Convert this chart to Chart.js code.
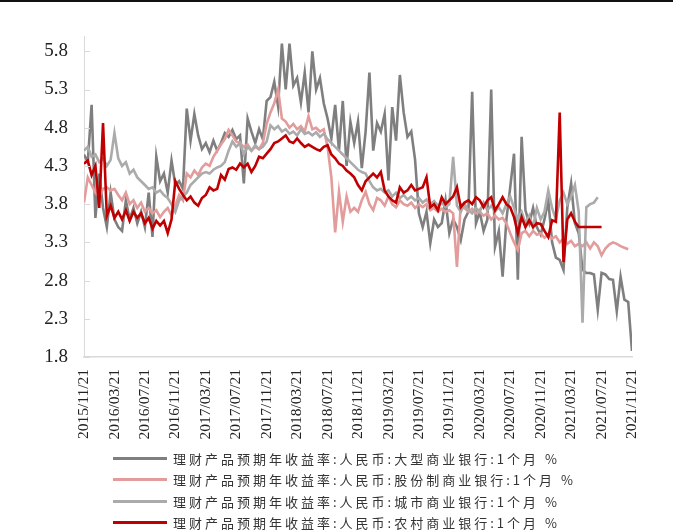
<!DOCTYPE html>
<html>
<head>
<meta charset="utf-8">
<script src="https://cdn.jsdelivr.net/npm/chart.js@4/dist/chart.umd.min.js"></script>
<style>
    html, body { margin: 0; padding: 0; background: #fff; }
    #wrap { position: relative; width: 681px; height: 532px; overflow: hidden; }
    #topBar { position: absolute; left: 0; top: 0; width: 673px; height: 2px; background: #111; }
    #legend { position: absolute; left: 113px; top: 448px; font-family: "Noto Sans CJK SC", sans-serif;
              font-size: 13px; letter-spacing: 3px; color: #333; }
    .row { height: 21.3px; line-height: 21.3px; white-space: nowrap; display: flex; align-items: center; }
    .swatch { width: 54px; height: 3px; margin-right: 6px; flex: none; }
</style>
</head>
<body>
<div id="wrap">
    <canvas id="rateChart" width="681" height="532"></canvas>
    <div id="topBar"></div>
    <div id="legend"></div>
</div>
<script>
// ================= DATA =================
// one sample every half month, starting 2015/11/21
const sampleStepMonths = 0.5;

const seriesNames = [
    "理财产品预期年收益率:人民币:大型商业银行:1个月 %",
    "理财产品预期年收益率:人民币:股份制商业银行:1个月 %",
    "理财产品预期年收益率:人民币:城市商业银行:1个月 %",
    "理财产品预期年收益率:人民币:农村商业银行:1个月 %"
];
const seriesColors = ['#7f7f7f', '#e39c9c', '#ababab', '#c00000'];

const largeBank = [
    4.45, 4.35, 5.1, 3.62, 4.2, 3.75, 3.5, 3.95, 3.6, 3.5,
    3.45, 3.85, 3.6, 3.75, 3.55, 3.7, 3.5, 3.95, 3.37, 4.42,
    4.1, 4.2, 3.95, 4.37, 4.05, 4.1, 4.0, 5.05, 4.63, 4.98,
    4.7, 4.52, 4.6, 4.48, 4.63, 4.5, 4.6, 4.73, 4.68, 4.77,
    4.65, 4.7, 4.07, 4.92, 4.75, 4.6, 4.78, 4.65, 5.15, 5.2,
    5.4, 5.08, 5.9, 5.3, 5.9, 5.35, 5.45, 5.13, 5.52, 5.0,
    5.8, 5.3, 5.45, 5.12, 4.92, 4.66, 5.1, 4.5, 5.15, 4.3,
    4.88, 4.6, 4.88, 4.27, 4.75, 5.52, 4.5, 4.86, 4.75, 4.98,
    4.11, 5.07, 4.63, 5.49, 5.0, 4.68, 4.75, 4.38, 3.68, 3.5,
    3.7, 3.29, 3.6, 3.5, 3.55, 3.85, 3.42, 3.6, 3.5, 3.33,
    3.6, 3.7, 5.27, 3.55, 3.7, 3.45, 3.6, 5.3, 3.24, 3.45,
    2.85, 3.6, 4.02, 4.46, 2.81, 4.68, 3.72, 3.55, 3.75, 3.5,
    3.4, 3.6, 3.85, 3.3, 3.1, 3.07, 2.94, 3.76, 4.07, 3.55,
    3.42, 2.94, 2.9, 2.9, 2.88, 2.42, 2.9, 2.88, 2.82, 2.81,
    2.4, 2.85, 2.55, 2.52, 1.88
];
const jointStockBank = [
    3.82, 4.15, 4.05, 3.95, 3.9, 4.0, 4.02, 3.98, 4.0, 3.92,
    3.85, 3.95, 3.8, 3.85, 3.75, 3.82, 3.7, 3.75, 3.68, 3.72,
    3.63, 3.7, 3.75, 3.65, 3.78, 3.92, 3.85, 4.2, 4.15, 4.24,
    4.18, 4.28, 4.33, 4.3, 4.42, 4.5, 4.58, 4.65, 4.77, 4.7,
    4.62, 4.6, 4.55, 4.58, 4.5, 4.55, 4.52, 4.6, 4.85, 5.0,
    5.12, 5.3, 4.92, 4.88, 4.8, 4.85, 4.78, 4.82, 4.75, 4.95,
    4.78, 4.8, 4.75, 4.78, 4.55, 4.15, 3.43, 3.96, 3.57, 3.9,
    3.7, 3.75, 3.7, 3.85, 3.96, 3.8, 3.72, 3.88, 3.85, 3.78,
    3.9, 3.8, 3.76, 3.85, 3.8, 3.78, 3.82, 3.75, 3.8, 3.76,
    3.8, 3.72, 3.75, 3.7, 3.74, 3.7, 3.72, 3.68, 2.98, 3.8,
    3.75, 3.7, 3.74, 3.68, 3.7, 3.65, 3.68, 3.6, 3.65, 3.6,
    3.62, 3.55, 3.42, 3.3, 3.2, 3.42, 3.45, 3.38, 3.45, 3.4,
    3.42, 3.36, 3.4, 3.35, 3.38, 3.3, 3.35, 3.28, 3.32, 3.25,
    3.28, 3.25, 3.3, 3.22, 3.3, 3.25, 3.13, 3.22, 3.27, 3.3,
    3.28, 3.25, 3.23, 3.21
];
const cityBank = [
    4.5, 4.55, 4.42, 4.45, 4.35, 4.4, 4.3, 4.38, 4.73, 4.4,
    4.3, 4.35, 4.2, 4.25, 4.15, 4.1, 4.05, 4.0, 4.02, 3.95,
    3.98, 3.92, 3.88, 3.8, 3.7, 3.85, 3.9, 3.95, 4.05, 4.1,
    4.15, 4.2, 4.22, 4.2, 4.25, 4.28, 4.3, 4.35, 4.5, 4.62,
    4.55, 4.6, 4.45, 4.55, 4.5, 4.57, 4.52, 4.55, 4.62, 4.83,
    4.78, 4.82, 4.75, 4.78, 4.72, 4.75, 4.7, 4.78, 4.72, 4.74,
    4.7, 4.74, 4.68, 4.72, 4.65, 4.6, 4.55, 4.5, 4.45, 4.4,
    4.35, 4.3, 4.25, 4.22, 4.2, 4.1, 4.02, 3.98, 4.0, 3.95,
    3.98, 3.9, 3.95, 3.88, 3.92, 3.86, 3.9, 3.85, 3.88, 3.82,
    3.86, 3.8, 3.84, 3.78, 3.82, 3.76, 3.8, 4.42, 3.78, 3.7,
    3.8, 3.72, 3.68, 3.75, 3.7, 3.82, 3.72, 3.78, 3.7, 3.76,
    3.68, 3.8, 3.9, 3.75, 3.6, 3.7, 3.55, 3.65, 3.5, 3.75,
    3.6, 3.7, 3.98, 3.75, 3.6, 3.85, 3.95, 3.8, 3.9, 4.05,
    3.7, 2.25, 3.76, 3.8, 3.82, 3.89
];
const ruralBank = [
    4.33, 4.37, 4.18, 4.3, 3.75, 4.86, 3.65, 3.78, 3.62, 3.7,
    3.6, 3.72, 3.58, 3.7, 3.62, 3.68, 3.55, 3.62, 3.48, 3.58,
    3.52, 3.58, 3.42, 3.6, 4.1, 4.0, 3.92, 3.85, 3.9, 3.82,
    3.78, 3.88, 3.92, 4.02, 3.98, 4.0, 4.18, 4.12, 4.26, 4.28,
    4.25, 4.33, 4.28, 4.33, 4.22, 4.3, 4.42, 4.4, 4.46, 4.52,
    4.6, 4.62, 4.66, 4.7, 4.62, 4.6, 4.66, 4.6, 4.55, 4.58,
    4.55, 4.52, 4.5, 4.55, 4.57, 4.45, 4.4, 4.33, 4.3, 4.24,
    4.2, 4.15, 4.05, 3.98, 4.1, 4.15, 4.2, 4.15, 4.22, 3.98,
    3.9, 3.85, 3.82, 4.02, 3.95, 3.98, 4.05, 3.98, 4.0, 4.02,
    4.15, 3.76, 3.8, 3.72, 3.89, 3.8, 3.85, 3.9, 4.02, 3.76,
    3.82, 3.85, 3.8, 3.89, 3.85, 3.76, 3.85, 3.89, 3.72, 3.8,
    3.89, 3.8, 3.76, 3.63, 3.42, 3.63, 3.5, 3.59, 3.5, 3.55,
    3.54, 3.45, 3.37, 3.59, 3.57, 5.0, 3.04, 3.6, 3.68, 3.57,
    3.5, 3.5, 3.5, 3.5, 3.5, 3.5, 3.5
];

// axis ticks (x in months since 2015/11/21)
const xTickLabels = [
    "2015/11/21", "2016/03/21", "2016/07/21", "2016/11/21", "2017/03/21", "2017/07/21",
    "2017/11/21", "2018/03/21", "2018/07/21", "2018/11/21", "2019/03/21", "2019/07/21",
    "2019/11/21", "2020/03/21", "2020/07/21", "2020/11/21", "2021/03/21", "2021/07/21",
    "2021/11/21"
];
const xTickMonths = [0, 4, 8, 12, 16, 20, 24, 28, 32, 36, 40, 44, 48, 52, 56, 60, 64, 68, 72];
const yTicks = [1.8, 2.3, 2.8, 3.3, 3.8, 4.3, 4.8, 5.3, 5.8];

// ================= CHART =================
const axisGray = '#d9d9d9';
const serifFont = "'Liberation Serif', 'Times New Roman', serif";

function toPoints(values) {
    return values.map((v, i) => ({ x: i * sampleStepMonths, y: v }));
}

// short tick marks drawn inside the plot, like the original
const innerTicks = {
    id: 'innerTicks',
    afterDraw(chart) {
        const ctx = chart.ctx;
        const y = chart.scales.y;
        const left = chart.chartArea.left;
        ctx.save();
        ctx.strokeStyle = axisGray;
        ctx.lineWidth = 1;
        yTicks.forEach(v => {
            const py = Math.round(y.getPixelForValue(v)) + 0.5;
            ctx.beginPath();
            ctx.moveTo(left, py);
            ctx.lineTo(left + 6, py);
            ctx.stroke();
        });
        ctx.restore();
    }
};

const allSeries = [largeBank, jointStockBank, cityBank, ruralBank];
// later series on top, like the original
const drawOrder = [3, 2, 1, 0];

const datasets = allSeries.map((values, k) => ({
    label: seriesNames[k],
    data: toPoints(values),
    borderColor: seriesColors[k],
    backgroundColor: seriesColors[k],
    borderWidth: 2.6,
    pointRadius: 0,
    tension: 0,
    order: drawOrder[k]
}));

new Chart(document.getElementById('rateChart'), {
    type: 'line',
    data: { datasets },
    plugins: [innerTicks],
    options: {
        responsive: false,
        animation: false,
        layout: { padding: { top: 36, right: 49, left: 0, bottom: 0 } },
        plugins: { legend: { display: false }, tooltip: { enabled: false } },
        scales: {
            x: {
                type: 'linear',
                min: 0,
                max: 72,
                grid: { display: false, drawTicks: false },
                border: { display: true, color: axisGray, width: 1.5 },
                afterBuildTicks: (scale) => { scale.ticks = xTickMonths.map(m => ({ value: m })); },
                afterFit: (scale) => { scale.height = 175; },
                ticks: {
                    autoSkip: false,
                    minRotation: 90,
                    maxRotation: 90,
                    padding: 12,
                    color: '#222',
                    font: { family: serifFont, size: 15.5 },
                    callback: (value, index) => xTickLabels[index]
                }
            },
            y: {
                type: 'linear',
                min: 1.8,
                max: 6.0,
                grid: { display: false, drawTicks: false },
                border: { display: true, color: axisGray, width: 1 },
                afterBuildTicks: (scale) => { scale.ticks = yTicks.map(v => ({ value: v })); },
                afterFit: (scale) => { scale.width = 84; },
                ticks: {
                    padding: 16,
                    color: '#222',
                    font: { family: serifFont, size: 19 },
                    callback: (value) => Number(value).toFixed(1)
                }
            }
        }
    }
});

// legend built from the same names / colours
const legendBox = document.getElementById('legend');
seriesNames.forEach((name, k) => {
    legendBox.innerHTML += `<div class="row"><span class="swatch" style="background:${seriesColors[k]}"></span><span>${name}</span></div>`;
});
</script>
</body>
</html>
